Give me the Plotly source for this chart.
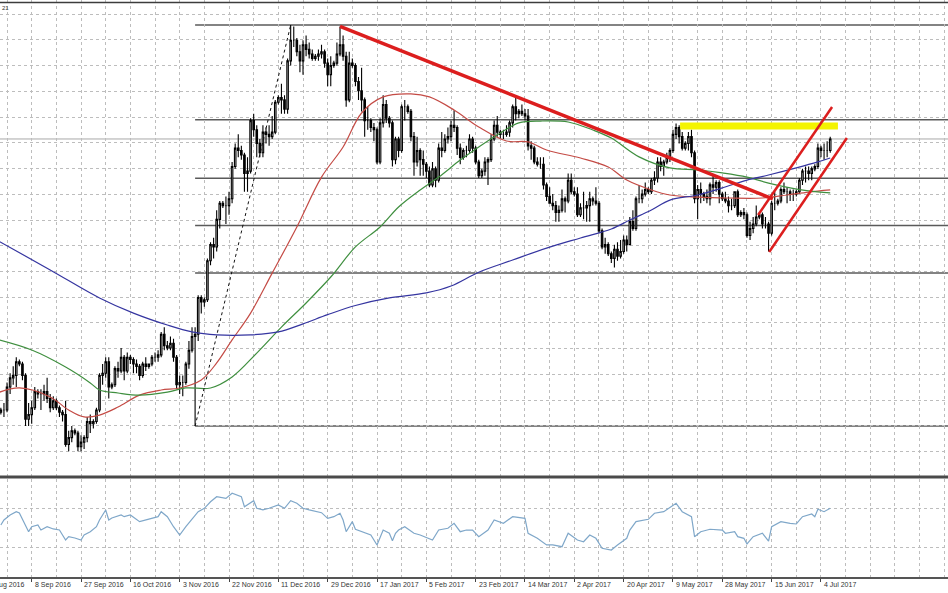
import pandas as pd
import plotly.graph_objects as go

# ---------------- data (USDJPY daily) ----------------
opens = [100.4,100.5,101.8,101.9,101.9,102.9,103.3,103.4,104.0,103.9,103.4,101.5,101.7,102.0,102.7,102.6,102.6,102.7,102.4,102.0,
         102.3,102.0,101.8,101.7,100.4,100.7,101.0,100.9,100.3,100.5,100.7,101.4,101.3,101.4,101.9,103.4,103.5,104.0,102.9,103.0,
         103.7,103.6,104.2,103.6,104.2,104.1,103.9,103.8,103.4,103.9,103.8,103.9,104.2,104.2,104.3,105.2,104.7,104.6,104.8,104.2,
         103.0,103.1,103.1,103.9,104.5,105.1,105.2,106.8,106.6,106.7,108.4,109.1,109.0,110.2,110.9,110.8,110.8,111.1,112.5,113.3,
         113.2,113.0,112.2,112.3,114.5,114.1,113.5,113.1,114.0,113.9,113.8,114.0,115.3,115.5,115.4,115.0,117.1,118.0,118.0,117.5,
         117.1,117.8,117.6,117.4,117.2,117.3,117.4,117.5,117.0,116.5,116.9,117.0,117.4,117.8,117.3,115.4,117.0,116.9,116.2,115.8,
         115.4,114.5,114.5,114.2,114.1,112.7,114.4,115.2,114.6,114.4,112.8,113.7,113.2,115.1,115.1,114.9,113.8,112.7,113.2,112.8,
         112.6,112.3,111.7,112.4,111.9,113.3,113.2,113.7,113.8,114.3,114.2,113.3,112.9,113.2,113.2,113.7,113.3,112.7,112.1,112.3,
         112.7,112.8,113.7,114.3,114.0,113.9,113.9,114.0,114.4,115.1,114.8,114.9,114.8,114.7,113.4,113.3,112.7,112.6,112.6,111.7,
         111.2,110.9,110.8,110.5,110.6,111.1,111.0,111.9,111.4,111.3,110.4,110.7,110.7,110.8,111.1,111.0,110.9,109.7,109.0,109.1,
         108.7,108.5,108.9,108.6,108.8,109.3,109.1,110.1,109.8,111.1,111.1,111.3,111.5,111.4,111.9,112.0,112.7,112.5,112.7,112.9,
         113.2,113.9,114.2,113.8,113.3,113.5,113.8,113.1,111.1,111.5,111.3,111.2,111.1,111.7,111.6,111.8,111.3,111.1,111.0,110.8,
         110.8,111.4,110.4,110.5,110.4,109.5,109.8,110.0,110.3,110.4,110.0,110.0,109.6,110.9,110.9,111.0,111.5,111.4,111.4,111.3,
         111.3,111.4,111.9,112.3,112.3,112.2,112.4,112.5,113.3,113.2,113.2,113.2]
highs = [100.8,102.0,102.0,102.2,103.1,103.5,103.8,104.2,104.1,104.0,103.5,102.2,102.3,102.9,102.8,102.8,103.0,103.3,102.6,102.5,
         102.4,102.1,101.9,102.3,101.0,101.2,101.1,101.0,100.8,100.8,101.6,101.7,101.5,102.0,103.5,103.9,104.2,104.2,103.1,103.8,
         104.0,104.6,104.3,104.4,104.3,104.2,104.1,103.9,104.0,104.2,103.9,104.3,104.4,104.5,105.3,105.5,104.9,105.1,105.0,104.3,
         103.4,103.4,104.0,104.9,105.5,105.5,106.9,106.9,106.8,108.5,109.2,109.4,110.6,111.0,111.0,111.2,111.4,112.7,113.5,113.9,
         113.4,113.1,112.9,114.6,114.8,114.3,113.7,114.3,114.2,114.3,114.7,115.4,115.6,116.1,115.6,117.2,118.66,118.6,118.1,117.8,
         118.0,118.2,117.9,117.6,117.4,117.6,117.8,117.6,117.2,117.3,117.1,117.9,118.6,118.2,117.5,117.5,117.2,117.0,116.4,116.8,
         115.5,115.1,114.6,114.4,114.2,114.6,115.6,115.4,114.7,114.5,113.8,113.8,115.2,115.4,115.2,115.0,114.0,113.8,113.3,113.2,
         112.7,112.5,112.7,112.5,113.5,114.0,113.9,114.2,114.5,114.95,114.3,113.5,113.3,113.4,113.9,113.8,113.4,112.8,112.4,112.9,
         112.9,113.9,114.5,114.7,114.1,114.1,114.3,114.5,115.2,115.5,115.0,115.2,115.0,115.0,113.6,113.4,112.9,112.9,112.9,111.8,
         111.6,111.3,111.0,110.8,111.5,111.2,112.2,112.2,111.6,111.6,110.9,111.4,111.0,111.4,111.2,111.6,111.0,109.8,109.4,109.2,
         108.8,109.1,109.2,109.3,109.5,109.5,110.3,110.6,111.2,111.7,111.5,111.8,111.6,112.0,112.3,112.9,112.9,112.8,113.1,113.3,
         114.1,114.37,114.3,114.0,113.6,114.0,114.1,113.2,111.7,111.8,111.4,111.5,111.8,112.1,111.9,111.9,111.4,111.4,111.2,111.1,
         111.4,111.5,110.6,110.7,110.5,110.1,110.3,110.8,110.5,110.5,110.3,110.1,111.0,111.4,111.1,111.6,111.8,111.6,111.5,111.5,
         111.5,112.0,112.4,112.5,112.5,112.5,112.6,113.5,113.4,113.5,113.6,113.8]
lows = [100.2,100.1,101.7,101.6,101.8,102.6,103.0,102.9,103.8,103.2,101.2,101.2,101.3,101.9,102.4,101.9,102.3,102.2,101.8,101.9,
        101.9,101.6,101.4,100.3,100.1,100.5,100.8,100.1,100.1,100.2,100.5,100.9,101.1,101.3,101.8,103.0,103.3,102.4,102.8,102.9,
        103.3,103.5,103.2,103.5,103.9,103.5,103.5,103.2,103.3,103.6,103.7,103.8,104.0,104.0,104.2,104.5,104.5,104.5,104.0,102.8,
        102.6,102.5,103.0,103.7,104.4,101.2,104.9,106.1,106.4,106.6,108.2,108.5,108.8,109.8,110.7,110.0,110.4,110.9,112.4,112.9,
        112.8,111.4,111.4,112.2,113.8,112.9,112.9,112.9,113.5,113.4,113.7,113.9,115.2,114.8,114.8,114.8,116.9,117.7,117.3,116.6,
        116.5,117.3,117.2,117.1,117.1,117.1,117.2,116.8,116.0,116.0,116.8,116.9,117.3,117.1,115.1,115.3,116.8,116.0,115.4,114.9,
        113.8,114.1,114.0,113.6,112.6,112.6,114.2,114.4,114.2,112.5,112.6,112.9,113.1,114.5,114.8,113.6,112.1,112.5,112.1,112.1,
        112.0,111.6,111.6,111.6,111.8,112.9,113.1,113.5,113.6,114.0,113.0,112.6,112.8,112.9,113.1,113.1,112.6,112.0,112.0,112.1,
        111.7,112.7,113.6,113.8,113.7,113.7,113.8,113.8,114.2,114.5,114.6,114.7,114.5,113.2,112.8,112.6,112.5,112.4,111.5,111.0,
        110.9,110.6,110.1,110.1,110.5,110.5,110.9,111.3,111.2,110.3,110.3,110.2,110.1,110.1,110.8,110.8,109.6,108.9,108.7,108.6,
        108.3,108.1,108.4,108.5,108.7,108.8,109.1,109.7,109.7,110.9,110.9,111.2,111.3,111.3,111.7,111.8,112.3,112.1,112.6,112.7,
        113.1,113.7,113.5,113.2,113.2,113.2,112.9,110.9,110.2,110.9,111.0,110.9,110.8,111.3,111.4,110.9,111.0,110.9,110.5,110.6,
        110.7,110.3,110.3,110.2,109.4,109.3,109.6,109.9,110.2,109.8,109.8,108.8,109.5,110.6,110.8,110.9,111.3,110.9,111.0,111.0,
        111.2,111.3,111.7,111.8,111.9,111.9,112.3,112.4,112.9,112.8,112.9,113.1]
closes = [100.5,101.8,101.9,101.9,102.9,103.3,103.4,104.0,103.9,103.4,101.5,101.7,102.0,102.7,102.6,102.6,102.7,102.4,102.0,102.3,
          102.0,101.8,101.7,100.4,100.7,101.0,100.9,100.3,100.5,100.7,101.4,101.3,101.4,101.9,103.4,103.5,104.0,102.9,103.0,103.7,
          103.6,104.2,103.6,104.2,104.1,103.9,103.8,103.4,103.9,103.8,103.9,104.2,104.2,104.3,105.2,104.7,104.6,104.8,104.2,103.0,
          103.1,103.1,103.9,104.5,105.1,105.2,106.8,106.6,106.7,108.4,109.1,109.0,110.2,110.9,110.8,110.8,111.1,112.5,113.3,113.2,
          113.0,112.2,112.3,114.5,114.1,113.5,113.1,114.0,113.9,113.8,114.0,115.3,115.5,115.4,115.0,117.1,118.0,118.0,117.5,117.1,
          117.8,117.6,117.4,117.2,117.3,117.4,117.5,117.0,116.5,116.9,117.0,117.4,117.8,117.3,115.4,117.0,116.9,116.2,115.8,115.4,
          114.5,114.5,114.2,114.1,112.7,114.4,115.2,114.6,114.4,112.8,113.7,113.2,115.1,115.1,114.9,113.8,112.7,113.2,112.8,112.6,
          112.3,111.7,112.4,111.9,113.3,113.2,113.7,113.8,114.3,114.2,113.3,112.9,113.2,113.2,113.7,113.3,112.7,112.1,112.3,112.7,
          112.8,113.7,114.3,114.0,113.9,113.9,114.0,114.4,115.1,114.8,114.9,114.8,114.7,113.4,113.3,112.7,112.6,112.6,111.7,111.2,
          110.9,110.8,110.5,110.6,111.1,111.0,111.9,111.4,111.3,110.4,110.7,110.7,110.8,111.1,111.0,110.9,109.7,109.0,109.1,108.7,
          108.5,108.9,108.6,108.8,109.3,109.1,110.1,109.8,111.1,111.1,111.3,111.5,111.4,111.9,112.0,112.7,112.5,112.7,112.9,113.2,
          113.9,114.2,113.8,113.3,113.5,113.8,113.1,111.1,111.5,111.3,111.2,111.1,111.7,111.6,111.8,111.3,111.1,111.0,110.8,110.8,
          111.4,110.4,110.5,110.4,109.5,109.8,110.0,110.3,110.4,110.0,110.0,109.6,110.9,110.9,111.0,111.5,111.4,111.4,111.3,111.3,
          111.4,111.9,112.3,112.3,112.2,112.4,112.5,113.3,113.2,113.2,113.2,113.7]
bars = list(range(len(closes)))

# moving averages (sampled along each curve)
red_ma_bar = [0, 8, 18, 24, 29, 34, 40, 47, 54, 60, 67, 72, 77, 83, 90, 98, 106, 113, 119, 126, 135, 141, 149, 157,
              166, 173, 179, 190, 199, 205, 213, 219, 228, 238, 249, 257, 264, 271]
red_ma = [102.6, 102.86, 102.47, 101.9, 101.6, 101.68, 102.03, 102.55, 102.77, 102.86, 103.21, 103.95, 104.95, 106.12,
          107.86, 109.87, 112.04, 113.35, 114.83, 115.53, 115.66, 115.53, 114.96, 114.22, 113.61, 113.57, 113.22, 112.87,
          112.48, 111.91, 111.48, 111.26, 111.17, 111.13, 111.13, 111.26, 111.39, 111.48]
green_ma_bar = [0, 12, 23, 31, 34, 40, 47, 56, 62, 70, 77, 85, 93, 101, 109, 117, 125, 131, 138, 144, 151, 157, 164,
                170, 177, 186, 194, 200, 209, 219, 228, 236, 244, 251, 258, 264, 271]
green_ma = [105.0, 104.51, 103.77, 103.08, 102.77, 102.64, 102.55, 102.68, 102.86, 102.86, 103.34, 104.38, 105.51,
            106.56, 107.69, 109.0, 109.87, 110.74, 111.48, 112.04, 112.78, 113.35, 113.96, 114.4, 114.48, 114.44, 114.09,
            113.74, 112.92, 112.44, 112.35, 112.22, 112.04, 111.78, 111.57, 111.44, 111.35]
blue_ma_bar = [0, 18, 34, 45, 56, 64, 72, 83, 92, 100, 108, 117, 128, 140, 148, 157, 168, 179, 190, 200, 206, 213, 219,
               228, 236, 244, 251, 260, 267, 271]
blue_ma = [109.35, 108.0, 106.78, 106.12, 105.6, 105.3, 105.17, 105.17, 105.3, 105.65, 106.05, 106.45, 106.78, 107.0,
           107.3, 107.9, 108.43, 108.95, 109.39, 109.78, 110.17, 110.61, 111.04, 111.26, 111.57, 111.91, 112.13, 112.44,
           112.70, 112.87]

# oscillator (lower panel)
rsi_bar = [2, 3, 5, 7, 8, 10, 11, 12, 14, 15, 17, 19, 21, 23, 24, 26, 28, 29, 31, 33, 34, 36, 37, 38, 41, 42, 44, 47,
           49, 53, 54, 56, 58, 60, 62, 66, 68, 70, 72, 75, 77, 80, 81, 84, 85, 87, 89, 92, 94, 96, 98, 100, 102, 106,
           108, 110, 112, 113, 114, 116, 117, 119, 122, 124, 126, 128, 129, 130, 131, 133, 136, 138, 141, 142, 144, 147,
           149, 151, 153, 155, 157, 160, 162, 165, 168, 172, 173, 176, 179, 181, 184, 186, 189, 191, 193, 195, 197, 200,
           202, 205, 206, 208, 212, 214, 217, 221, 223, 226, 227, 229, 232, 236, 237, 240, 241, 243, 244, 246, 249, 251,
           252, 255, 258, 260, 262, 265, 266, 267, 269, 271]
rsi_val = [52.6, 57.7, 62.8, 66.2, 64.9, 52.6, 45.7, 50.8, 52.6, 47.4, 50.8, 48.5, 47.4, 37.2, 40.6, 39.2, 37.2, 42.3,
           45.7, 50.8, 57.7, 67.9, 57.7, 59.7, 62.8, 61.1, 62.8, 56.0, 57.7, 61.1, 66.2, 61.1, 50.8, 42.3, 50.8, 66.2,
           69.7, 76.4, 81.6, 79.9, 85.1, 81.6, 71.3, 77.5, 69.7, 68.0, 69.7, 73.1, 69.7, 77.5, 74.8, 69.7, 68.0, 65.2,
           59.4, 61.1, 64.6, 57.7, 45.7, 56.0, 48.2, 45.7, 42.3, 32.1, 47.4, 44.1, 36.5, 44.1, 47.4, 50.8, 44.1, 42.3,
           38.9, 37.2, 47.4, 49.2, 54.3, 45.7, 47.4, 47.4, 40.6, 47.4, 57.7, 54.3, 61.1, 59.4, 44.1, 38.9, 32.1, 32.1,
           30.3, 44.1, 37.2, 35.4, 42.3, 38.9, 28.7, 26.9, 32.1, 38.9, 47.4, 56.0, 58.4, 64.6, 66.2, 74.8, 66.2, 61.1,
           40.6, 45.7, 48.2, 47.4, 44.1, 45.7, 40.6, 38.9, 33.1, 40.6, 44.1, 36.0, 50.8, 56.0, 54.3, 53.6, 61.1, 63.8,
           61.1, 68.7, 66.2, 69.7]
rsi_levels = [30, 70]

# drawing objects (bar index, price)
fib_anchor_bar = [65, 96]
fib_anchor_price = [101.2, 118.66]
fib_ratios = [0.0, 0.236, 0.382, 0.5, 0.618, 1.0]
downtrend_bar = [112, 252.4]
downtrend_price = [118.6, 111.09]
channel_up_bar = [247.6, 271.6]
channel_up_price = [110.39, 115.09]
channel_lo_bar = [251.2, 276.4]
channel_lo_price = [108.78, 113.74]
resist_bar = [222.3, 273.5]
resist_price = [114.26, 114.26]

label_bars = list(range(-4, 272, 16))
calendar = pd.bdate_range("2016-08-21", periods=320, freq="C", weekmask="Sun Mon Tue Wed Thu Fri")
label_text = [f"{calendar[b + 4].day} {calendar[b + 4].strftime('%b %Y')}" for b in label_bars]

# ---------------- figure ----------------
W, H = 948, 593
PLOT_H = 577
XL, XR = 1.72, 309.2
GRID = "#bdbdbd"

fig = go.Figure()
fig.add_trace(go.Candlestick(
    x=bars, open=opens, high=highs, low=lows, close=closes,
    increasing=dict(line=dict(color="#000000", width=1.1), fillcolor="#e8e8e8"),
    decreasing=dict(line=dict(color="#000000", width=1.1), fillcolor="#000000"),
    whiskerwidth=0, showlegend=False, xaxis="x", yaxis="y"))

for bx, vals, col in [(red_ma_bar, red_ma, "#c44b45"), (green_ma_bar, green_ma, "#3f8f3f"),
                      (blue_ma_bar, blue_ma, "#3535a0")]:
    fig.add_trace(go.Scatter(x=bx, y=vals, mode="lines", line=dict(color=col, width=1.2, shape="spline"),
                             showlegend=False, hoverinfo="skip", xaxis="x", yaxis="y"))

# fib dotted diagonal
fig.add_trace(go.Scatter(x=fib_anchor_bar, y=fib_anchor_price, mode="lines",
                         line=dict(color="#111111", width=1, dash="dot"), showlegend=False, xaxis="x", yaxis="y"))
# yellow resistance
fig.add_trace(go.Scatter(x=resist_bar, y=resist_price, mode="lines", line=dict(color="#f4f400", width=7),
                         showlegend=False, xaxis="x", yaxis="y"))
# red lines
fig.add_trace(go.Scatter(x=downtrend_bar, y=downtrend_price, mode="lines", line=dict(color="#dc1e1e", width=3.5),
                         showlegend=False, xaxis="x", yaxis="y"))
for bx, py in [(channel_up_bar, channel_up_price), (channel_lo_bar, channel_lo_price)]:
    fig.add_trace(go.Scatter(x=bx, y=py, mode="lines", line=dict(color="#dc1e1e", width=2.5),
                             showlegend=False, xaxis="x", yaxis="y"))

# oscillator
fig.add_trace(go.Scatter(x=rsi_bar, y=rsi_val, mode="lines", line=dict(color="#7fa7c9", width=1.2),
                         showlegend=False, xaxis="x2", yaxis="y2"))

shapes = []
lo, hi = fib_anchor_price
for r in fib_ratios:
    lvl = hi - r * (hi - lo)
    shapes.append(dict(type="line", xref="x", yref="y", x0=fib_anchor_bar[0], x1=XR, y0=lvl, y1=lvl,
                       line=dict(color="#5a5a5a", width=1.5), layer="below"))
# bid line at last close
shapes.append(dict(type="line", xref="x", yref="y", x0=XL, x1=XR, y0=closes[-1], y1=closes[-1],
                   line=dict(color="#a8a8a8", width=1), layer="below"))
# frame lines
shapes.append(dict(type="line", xref="paper", yref="paper", x0=0, x1=1, y0=1 - 2.5 / PLOT_H, y1=1 - 2.5 / PLOT_H,
                   line=dict(color="#3c3c3c", width=1.5)))
shapes.append(dict(type="line", xref="paper", yref="paper", x0=0, x1=1, y0=1 - 477 / PLOT_H, y1=1 - 477 / PLOT_H,
                   line=dict(color="#4a4a4a", width=3)))

annotations = [dict(x=(b - XL) / (XR - XL), y=-0.004, xref="paper", yref="paper", text=t, showarrow=False,
                    xanchor="left", yanchor="top", xshift=1,
                    font=dict(family="Liberation Sans", size=7, color="#333333"))
               for b, t in zip(label_bars, label_text)]
annotations.append(dict(x=0, y=1 - 8 / PLOT_H, xref="paper", yref="paper", text="21", showarrow=False,
                        xanchor="left", yanchor="middle", font=dict(family="Liberation Sans", size=6, color="#333")))

grid_common = dict(showgrid=True, gridcolor=GRID, gridwidth=1, griddash="dot", zeroline=False)
fig.update_layout(
    width=W, height=H, margin=dict(l=0, r=0, t=0, b=H - PLOT_H),
    paper_bgcolor="white", plot_bgcolor="white", showlegend=False,
    xaxis=dict(domain=[0, 1], range=[XL, XR], anchor="y", tickmode="linear", tick0=4, dtick=8,
               showticklabels=False, ticks="", rangeslider=dict(visible=False), **grid_common),
    yaxis=dict(domain=[1 - 476 / PLOT_H, 1], range=[119.75 - 476 / 22.97, 119.75], tickmode="linear",
               tick0=118.009, dtick=1.12, showticklabels=False, ticks="", **grid_common),
    xaxis2=dict(domain=[0, 1], range=[XL, XR], anchor="y2", tickmode="array", tickvals=label_bars,
                showticklabels=False, ticks="outside", ticklen=3, tickcolor="#444",
                showline=True, linecolor="#555555", linewidth=2,
                minor=dict(tickmode="linear", tick0=4, dtick=8, showgrid=True, gridcolor=GRID, griddash="dot", ticks=""),
                **grid_common),
    yaxis2=dict(domain=[0, 1 - 479 / PLOT_H], range=[-0.77, 99.74], tickmode="array", tickvals=rsi_levels,
                showticklabels=False, ticks="", **grid_common),
    shapes=shapes, annotations=annotations,
)
fig.write_html("out.html")
